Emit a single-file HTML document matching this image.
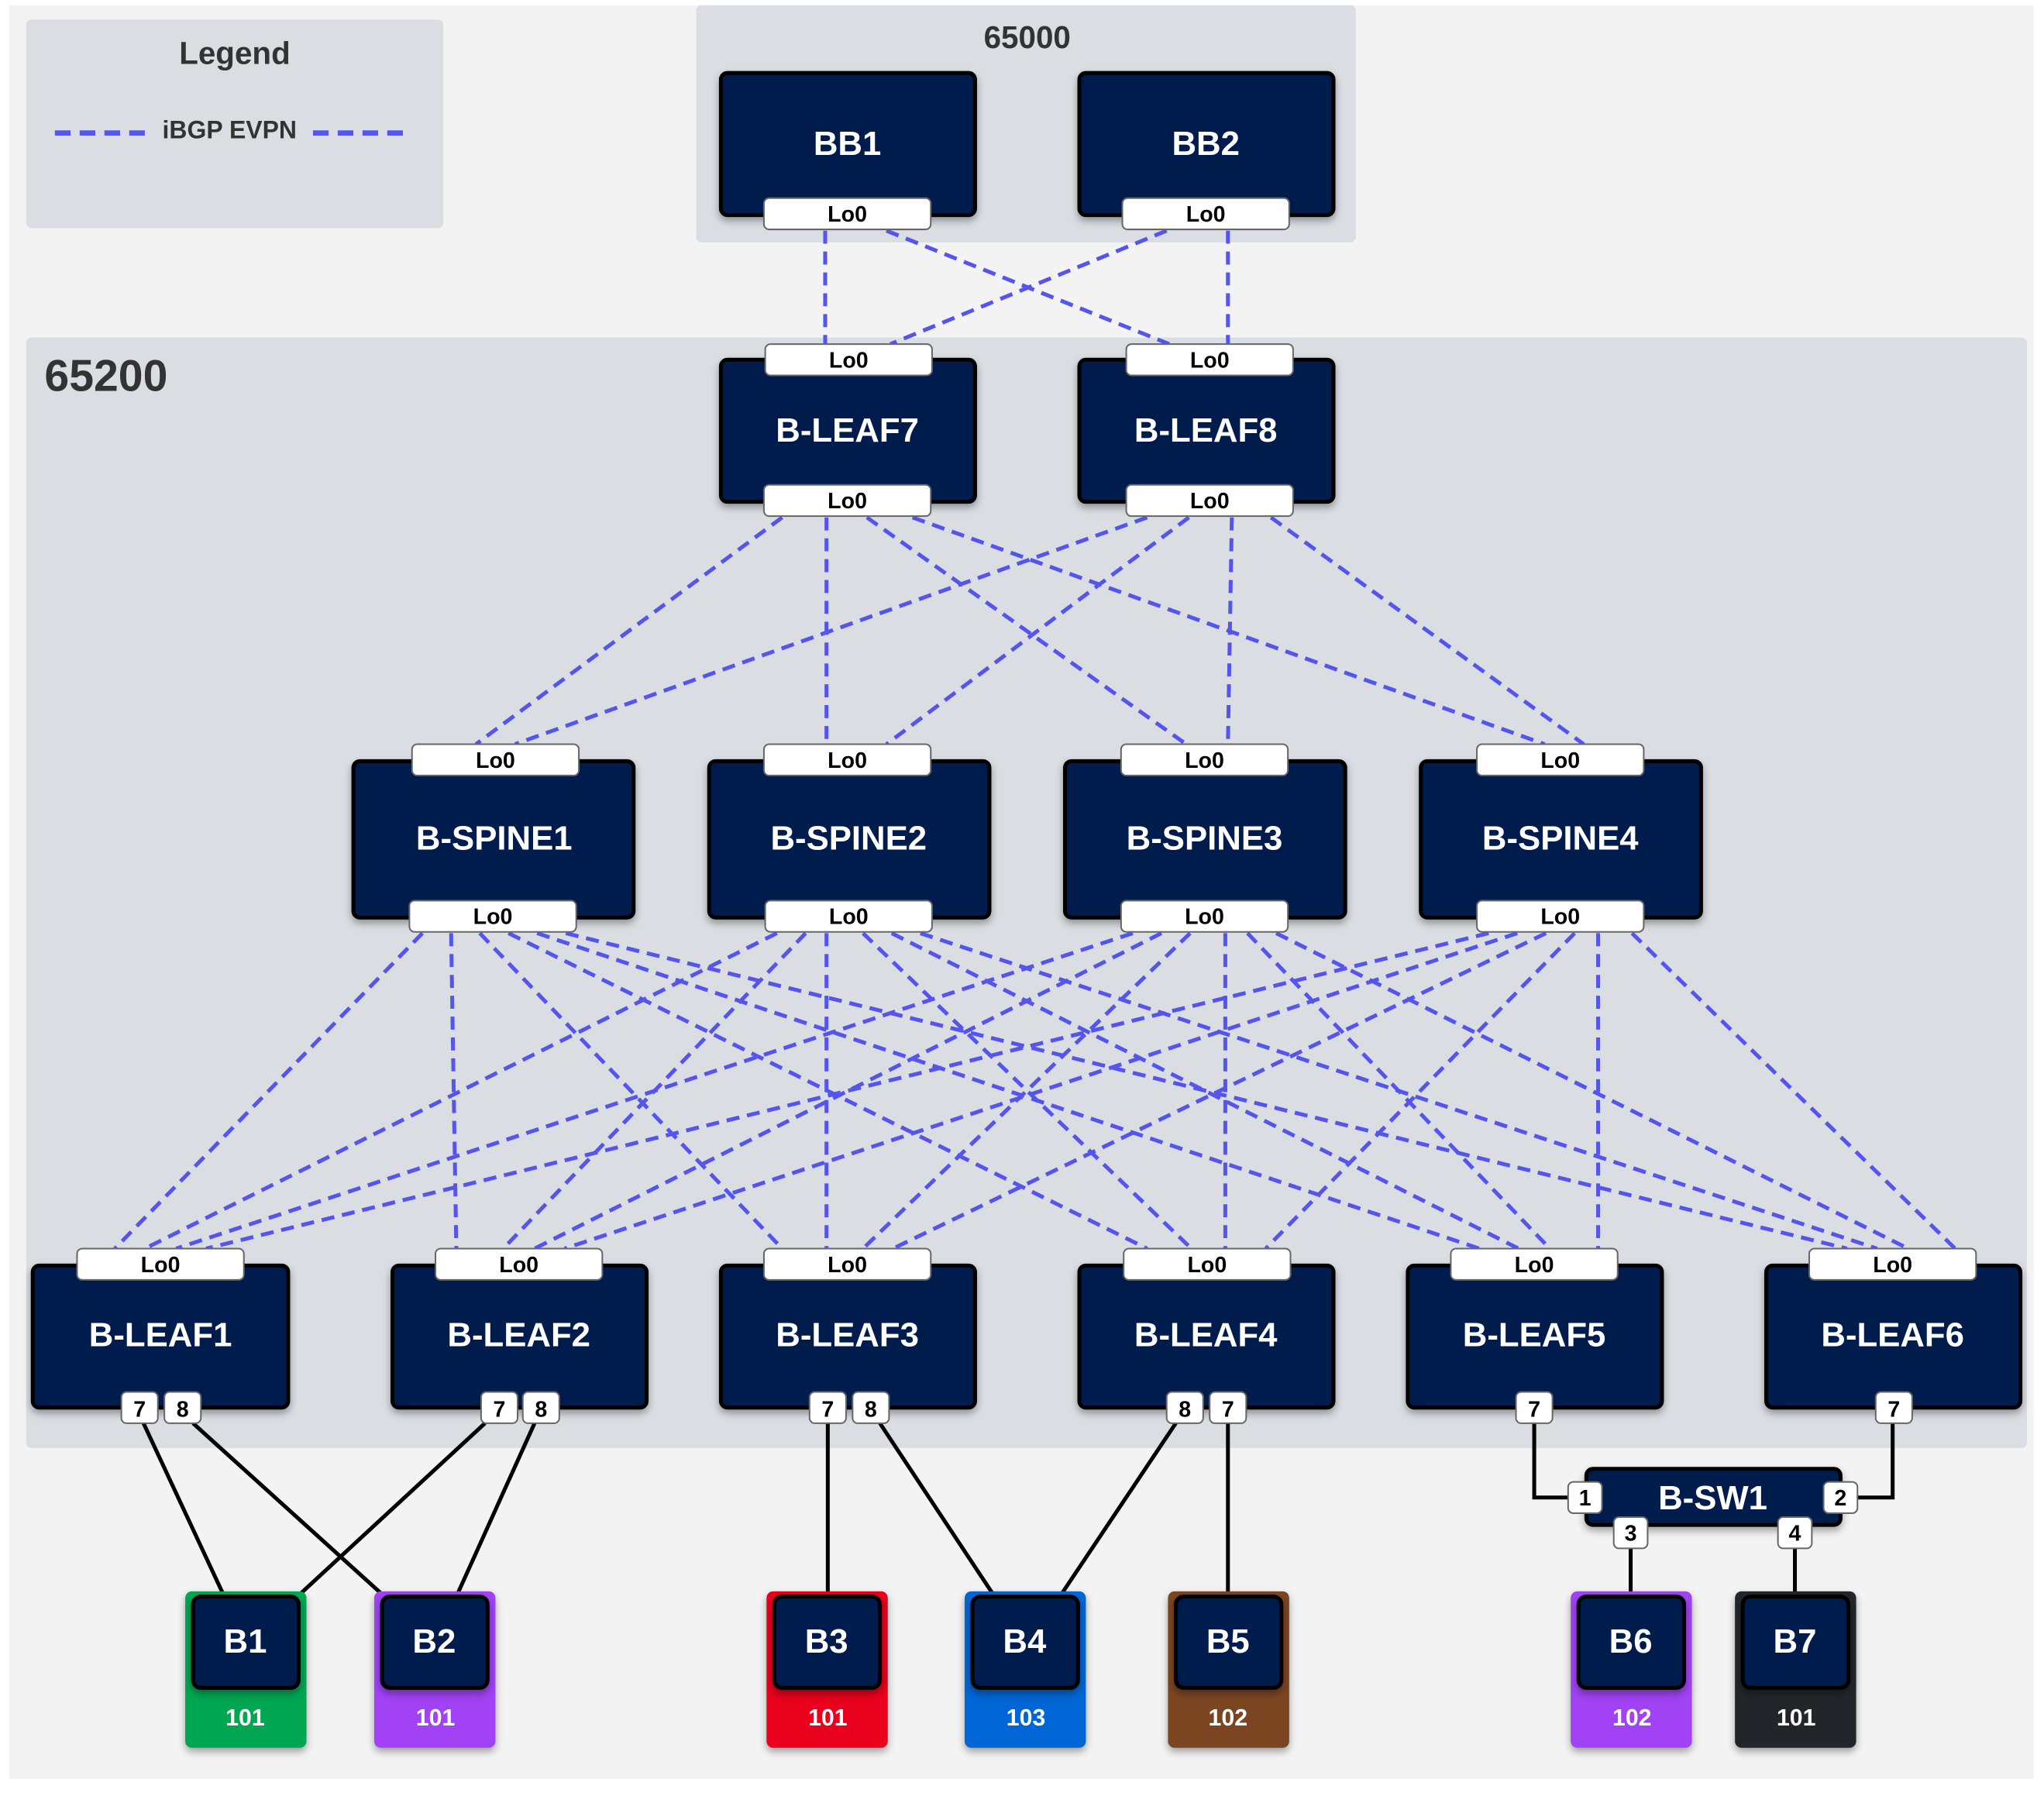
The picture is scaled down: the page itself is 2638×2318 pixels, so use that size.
<!DOCTYPE html>
<html><head><meta charset="utf-8"><style>html,body{margin:0;padding:0;background:#fff}svg{display:block}</style></head><body>
<svg xmlns="http://www.w3.org/2000/svg" width="2638" height="2318" viewBox="0 0 1568 1378" font-family="Liberation Sans, sans-serif" font-weight="bold">
<defs>
<filter id="sh" x="-10%" y="-10%" width="130%" height="140%"><feDropShadow dx="0" dy="3" stdDeviation="3" flood-color="#000" flood-opacity="0.35"/></filter>
</defs>
<rect x="7" y="4" width="1553" height="1361" fill="#f3f3f3"/>
<rect x="20" y="15" width="320" height="160" rx="4" fill="#dadee3"/>
<rect x="534" y="4" width="506" height="182" rx="4" fill="#dadee3"/>
<rect x="20" y="259" width="1535" height="852" rx="4" fill="#dadee3"/>
<text x="180" y="49" font-size="24" fill="#333" text-anchor="middle">Legend</text>
<g stroke="#5555ee" stroke-width="4" stroke-dasharray="12 7"><line x1="42" y1="102" x2="112" y2="102"/><line x1="240" y1="102" x2="310" y2="102"/></g>
<text x="176" y="106" font-size="19" fill="#333" text-anchor="middle">iBGP EVPN</text>
<text x="788" y="37" font-size="24" fill="#333" text-anchor="middle">65000</text>
<text x="34" y="300" font-size="34" fill="#333">65200</text>

<g stroke="#5555ee" stroke-width="3" stroke-dasharray="10 6" fill="none">
<line x1="633" y1="177" x2="633" y2="264"/><line x1="680" y1="177" x2="897" y2="264"/>
<line x1="895" y1="177" x2="683" y2="264"/><line x1="942" y1="177" x2="942" y2="264"/>
<line x1="600" y1="397" x2="365" y2="571"/><line x1="634" y1="397" x2="634" y2="571"/>
<line x1="665" y1="397" x2="910" y2="571"/><line x1="700" y1="397" x2="1185" y2="571"/>
<line x1="880" y1="397" x2="395" y2="571"/><line x1="912" y1="397" x2="680" y2="571"/>
<line x1="945" y1="397" x2="942" y2="571"/><line x1="975" y1="397" x2="1215" y2="571"/>
<line x1="324" y1="716" x2="88" y2="958"/><line x1="346" y1="716" x2="350" y2="958"/>
<line x1="368" y1="716" x2="600" y2="958"/><line x1="390" y1="716" x2="880" y2="958"/>
<line x1="412" y1="716" x2="1135" y2="958"/><line x1="434" y1="716" x2="1417" y2="958"/>
<line x1="596" y1="716" x2="111" y2="958"/><line x1="618" y1="716" x2="386" y2="958"/>
<line x1="634" y1="716" x2="634" y2="958"/><line x1="662" y1="716" x2="914" y2="958"/>
<line x1="684" y1="716" x2="1165" y2="958"/><line x1="706" y1="716" x2="1440" y2="958"/>
<line x1="869" y1="716" x2="135" y2="958"/><line x1="891" y1="716" x2="410" y2="958"/>
<line x1="913" y1="716" x2="662" y2="958"/><line x1="940" y1="716" x2="940" y2="958"/>
<line x1="957" y1="716" x2="1189" y2="958"/><line x1="979" y1="716" x2="1464" y2="958"/>
<line x1="1142" y1="716" x2="158" y2="958"/><line x1="1164" y1="716" x2="433" y2="958"/>
<line x1="1186" y1="716" x2="685" y2="958"/><line x1="1208" y1="716" x2="971" y2="958"/>
<line x1="1226" y1="716" x2="1226" y2="958"/><line x1="1252" y1="716" x2="1500" y2="958"/>
</g>

<g stroke="#000" stroke-width="3" fill="none">
<line x1="110" y1="1092" x2="172" y2="1225"/><line x1="148" y1="1092" x2="295" y2="1225"/>
<line x1="372" y1="1092" x2="228" y2="1225"/><line x1="410" y1="1092" x2="350" y2="1225"/>
<line x1="635" y1="1092" x2="635" y2="1225"/><line x1="675" y1="1092" x2="763" y2="1225"/>
<line x1="902" y1="1092" x2="813" y2="1225"/><line x1="942" y1="1092" x2="942" y2="1225"/>
<polyline points="1177,1092 1177,1149 1203,1149"/><polyline points="1452,1092 1452,1149 1425,1149"/>
<line x1="1251" y1="1188" x2="1251" y2="1225"/><line x1="1377" y1="1188" x2="1377" y2="1225"/>
</g>

<g fill="#021a4d" stroke="#000" stroke-width="3" filter="url(#sh)">
<rect x="553" y="56" width="195" height="109" rx="5"/><rect x="828" y="56" width="195" height="109" rx="5"/>
<rect x="553" y="276" width="195" height="109" rx="5"/><rect x="828" y="276" width="195" height="109" rx="5"/>
<rect x="271" y="584" width="215" height="120" rx="5"/><rect x="544" y="584" width="215" height="120" rx="5"/>
<rect x="817" y="584" width="215" height="120" rx="5"/><rect x="1090" y="584" width="215" height="120" rx="5"/>
<rect x="25" y="971" width="196" height="109" rx="5"/><rect x="301" y="971" width="195" height="109" rx="5"/>
<rect x="553" y="971" width="195" height="109" rx="5"/><rect x="828" y="971" width="195" height="109" rx="5"/>
<rect x="1080" y="971" width="195" height="109" rx="5"/><rect x="1355" y="971" width="195" height="109" rx="5"/>
<rect x="1217" y="1127" width="195" height="43" rx="5"/>
</g>
<g filter="url(#sh)">
<rect x="142" y="1221" width="93" height="120" rx="5" fill="#00a651"/>
<rect x="287" y="1221" width="93" height="120" rx="5" fill="#a142f4"/>
<rect x="588" y="1221" width="93" height="120" rx="5" fill="#e8001c"/>
<rect x="740" y="1221" width="93" height="120" rx="5" fill="#0366d6"/>
<rect x="896" y="1221" width="93" height="120" rx="5" fill="#7b4522"/>
<rect x="1205" y="1221" width="93" height="120" rx="5" fill="#a142f4"/>
<rect x="1331" y="1221" width="93" height="120" rx="5" fill="#23262b"/>
</g>
<g fill="#021a4d" stroke="#000" stroke-width="3" filter="url(#sh)">
<rect x="148" y="1225" width="81" height="70" rx="6"/><rect x="293" y="1225" width="81" height="70" rx="6"/>
<rect x="594" y="1225" width="81" height="70" rx="6"/><rect x="746" y="1225" width="81" height="70" rx="6"/>
<rect x="902" y="1225" width="81" height="70" rx="6"/><rect x="1211" y="1225" width="81" height="70" rx="6"/>
<rect x="1337" y="1225" width="81" height="70" rx="6"/>
</g>

<g fill="#fff" font-size="26" text-anchor="middle">
<text x="650" y="119">BB1</text><text x="925" y="119">BB2</text>
<text x="650" y="339">B-LEAF7</text><text x="925" y="339">B-LEAF8</text>
<text x="379" y="652">B-SPINE1</text><text x="651" y="652">B-SPINE2</text>
<text x="924" y="652">B-SPINE3</text><text x="1197" y="652">B-SPINE4</text>
<text x="123" y="1033">B-LEAF1</text><text x="398" y="1033">B-LEAF2</text>
<text x="650" y="1033">B-LEAF3</text><text x="925" y="1033">B-LEAF4</text>
<text x="1177" y="1033">B-LEAF5</text><text x="1452" y="1033">B-LEAF6</text>
<text x="1314" y="1158">B-SW1</text>
<text x="188" y="1268">B1</text><text x="333" y="1268">B2</text><text x="634" y="1268">B3</text>
<text x="786" y="1268">B4</text><text x="942" y="1268">B5</text><text x="1251" y="1268">B6</text><text x="1377" y="1268">B7</text>
</g>
<g fill="#fff" font-size="18" text-anchor="middle">
<text x="188" y="1324">101</text><text x="334" y="1324">101</text><text x="635" y="1324">101</text>
<text x="787" y="1324">103</text><text x="942" y="1324">102</text><text x="1252" y="1324">102</text><text x="1378" y="1324">101</text>
</g>

<g fill="#fff" stroke="#666" stroke-width="1.2">
<rect x="586" y="152" width="128" height="24" rx="4"/><rect x="861" y="152" width="128" height="24" rx="4"/>
<rect x="587" y="264" width="128" height="24" rx="4"/><rect x="864" y="264" width="128" height="24" rx="4"/>
<rect x="586" y="372" width="128" height="24" rx="4"/><rect x="864" y="372" width="128" height="24" rx="4"/>
<rect x="316" y="571" width="128" height="24" rx="4"/><rect x="586" y="571" width="128" height="24" rx="4"/>
<rect x="860" y="571" width="128" height="24" rx="4"/><rect x="1133" y="571" width="128" height="24" rx="4"/>
<rect x="314" y="691" width="128" height="24" rx="4"/><rect x="587" y="691" width="128" height="24" rx="4"/>
<rect x="860" y="691" width="128" height="24" rx="4"/><rect x="1133" y="691" width="128" height="24" rx="4"/>
<rect x="59" y="958" width="128" height="24" rx="4"/><rect x="334" y="958" width="128" height="24" rx="4"/>
<rect x="586" y="958" width="128" height="24" rx="4"/><rect x="862" y="958" width="128" height="24" rx="4"/>
<rect x="1113" y="958" width="128" height="24" rx="4"/><rect x="1388" y="958" width="128" height="24" rx="4"/>
<rect x="93" y="1068" width="28" height="24" rx="4"/><rect x="126" y="1068" width="28" height="24" rx="4"/>
<rect x="369" y="1068" width="28" height="24" rx="4"/><rect x="401" y="1068" width="28" height="24" rx="4"/>
<rect x="621" y="1068" width="28" height="24" rx="4"/><rect x="654" y="1068" width="28" height="24" rx="4"/>
<rect x="895" y="1068" width="28" height="24" rx="4"/><rect x="928" y="1068" width="28" height="24" rx="4"/>
<rect x="1163" y="1068" width="28" height="24" rx="4"/><rect x="1439" y="1068" width="28" height="24" rx="4"/>
<rect x="1203" y="1137" width="26" height="24" rx="4"/><rect x="1399" y="1137" width="26" height="24" rx="4"/>
<rect x="1238" y="1164" width="26" height="24" rx="4"/><rect x="1364" y="1164" width="26" height="24" rx="4"/>
</g>
<g fill="#000" font-size="17" text-anchor="middle">
<text x="650" y="170">Lo0</text><text x="925" y="170">Lo0</text>
<text x="651" y="282">Lo0</text><text x="928" y="282">Lo0</text>
<text x="650" y="390">Lo0</text><text x="928" y="390">Lo0</text>
<text x="380" y="589">Lo0</text><text x="650" y="589">Lo0</text>
<text x="924" y="589">Lo0</text><text x="1197" y="589">Lo0</text>
<text x="378" y="709">Lo0</text><text x="651" y="709">Lo0</text>
<text x="924" y="709">Lo0</text><text x="1197" y="709">Lo0</text>
<text x="123" y="976">Lo0</text><text x="398" y="976">Lo0</text>
<text x="650" y="976">Lo0</text><text x="926" y="976">Lo0</text>
<text x="1177" y="976">Lo0</text><text x="1452" y="976">Lo0</text>
<text x="107" y="1087">7</text><text x="140" y="1087">8</text>
<text x="383" y="1087">7</text><text x="415" y="1087">8</text>
<text x="635" y="1087">7</text><text x="668" y="1087">8</text>
<text x="909" y="1087">8</text><text x="942" y="1087">7</text>
<text x="1177" y="1087">7</text><text x="1453" y="1087">7</text>
<text x="1216" y="1155">1</text><text x="1412" y="1155">2</text>
<text x="1251" y="1182">3</text><text x="1377" y="1182">4</text>
</g>
</svg>
</body></html>
